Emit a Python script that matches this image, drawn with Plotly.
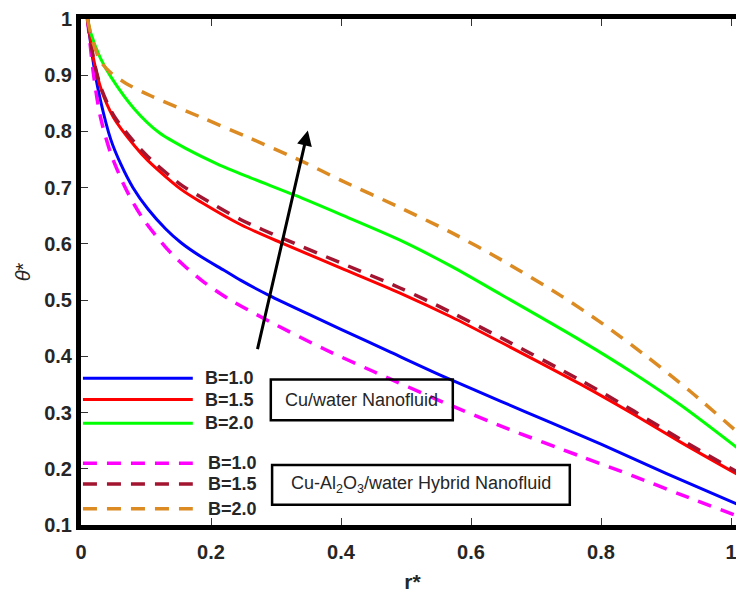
import plotly.graph_objects as go

# ---------------- data ----------------
r_cu_b10 = [0.01, 0.02, 0.03, 0.046, 0.062, 0.08, 0.103, 0.13, 0.154, 0.185, 0.22, 0.246,
            0.29, 0.35, 0.4, 0.477, 0.558, 0.646, 0.723, 0.8, 0.9, 1.01]
th_cu_b10 = [1.0, 0.915, 0.855, 0.785, 0.74, 0.70, 0.662, 0.627, 0.602, 0.577, 0.553, 0.535,
             0.508, 0.475, 0.448, 0.407, 0.364, 0.320, 0.282, 0.244, 0.192, 0.137]

r_cu_b15 = [0.01, 0.02, 0.031, 0.05, 0.082, 0.103, 0.154, 0.185, 0.246, 0.312, 0.4, 0.49,
            0.57, 0.646, 0.769, 0.85, 0.923, 1.01]
th_cu_b15 = [1.0, 0.925, 0.875, 0.825, 0.775, 0.748, 0.697, 0.674, 0.634, 0.600, 0.557, 0.513,
             0.47, 0.425, 0.35, 0.297, 0.247, 0.19]

r_cu_b20 = [0.01, 0.015, 0.03, 0.046, 0.082, 0.12, 0.164, 0.21, 0.26, 0.328, 0.4, 0.49, 0.57,
            0.646, 0.769, 0.85, 0.923, 1.01]
th_cu_b20 = [1.0, 0.975, 0.93, 0.897, 0.84, 0.798, 0.768, 0.742, 0.718, 0.687, 0.652, 0.607,
             0.56, 0.51, 0.428, 0.37, 0.313, 0.237]

r_hy_b10 = [0.01, 0.02, 0.03, 0.046, 0.062, 0.077, 0.097, 0.131, 0.158, 0.189, 0.226, 0.29,
            0.374, 0.45, 0.554, 0.657, 0.769, 0.85, 0.923, 1.01]
th_hy_b10 = [1.0, 0.895, 0.825, 0.76, 0.715, 0.68, 0.642, 0.593, 0.562, 0.532, 0.503, 0.462,
             0.413, 0.373, 0.32, 0.271, 0.222, 0.187, 0.154, 0.116]

r_hy_b15 = [0.01, 0.02, 0.031, 0.05, 0.082, 0.103, 0.154, 0.185, 0.246, 0.312, 0.4, 0.49,
            0.57, 0.646, 0.769, 0.85, 0.923, 1.01]
th_hy_b15 = [1.0, 0.925, 0.877, 0.829, 0.781, 0.755, 0.705, 0.683, 0.643, 0.609, 0.566, 0.522,
             0.478, 0.433, 0.357, 0.303, 0.252, 0.194]

r_hy_b20 = [0.01, 0.018, 0.03, 0.045, 0.07, 0.108, 0.185, 0.26, 0.338, 0.4, 0.49, 0.57, 0.646,
            0.738, 0.8, 0.87, 0.938, 1.01]
th_hy_b20 = [1.0, 0.96, 0.925, 0.905, 0.885, 0.863, 0.825, 0.788, 0.748, 0.713, 0.665, 0.62,
             0.572, 0.508, 0.46, 0.40, 0.337, 0.265]

labels_b = ["B=1.0", "B=1.5", "B=2.0"]
x_ticks = [0, 0.2, 0.4, 0.6, 0.8, 1.0]
x_ticktext = ["0", "0.2", "0.4", "0.6", "0.8", "1"]
y_ticks = [0.1, 0.2, 0.3, 0.4, 0.5, 0.6, 0.7, 0.8, 0.9, 1.0]
y_ticktext = ["0.1", "0.2", "0.3", "0.4", "0.5", "0.6", "0.7", "0.8", "0.9", "1"]

cu_colors = ["#0000FF", "#FF0000", "#00FF00"]
hy_colors = ["#FF00FF", "#A2142F", "#DC8A22"]
DASH = "14px,10px"

cu_series = [(r_cu_b10, th_cu_b10), (r_cu_b15, th_cu_b15), (r_cu_b20, th_cu_b20)]
hy_series = [(r_hy_b10, th_hy_b10), (r_hy_b15, th_hy_b15), (r_hy_b20, th_hy_b20)]

fig = go.Figure()
for (r, t), c, name in zip(cu_series, cu_colors, labels_b):
    fig.add_trace(go.Scatter(x=r, y=t, mode="lines", name=name, showlegend=False,
                             line=dict(color=c, width=3, shape="spline", smoothing=0.8)))
for (r, t), c, name in zip(hy_series, hy_colors, labels_b):
    fig.add_trace(go.Scatter(x=r, y=t, mode="lines", name=name, showlegend=False,
                             line=dict(color=c, width=3.5, dash=DASH, shape="spline",
                                       smoothing=0.8)))

TXT = "#262626"
FONT = "Liberation Sans, Arial, sans-serif"

# ---- custom legend (inside lower-left) ----
shapes = []
annotations = []
cu_leg_y = [0.361, 0.323, 0.281]
hy_leg_y = [0.210, 0.173, 0.129]
for yv, c, lab in zip(cu_leg_y, cu_colors, labels_b):
    shapes.append(dict(type="line", xref="x", yref="y", x0=0.003, x1=0.172, y0=yv, y1=yv,
                       line=dict(color=c, width=3)))
    annotations.append(dict(x=0.188, y=yv, xref="x", yref="y", text=lab, showarrow=False,
                            xanchor="left", yanchor="middle",
                            font=dict(family=FONT, size=18, color=TXT, weight="bold")))
for yv, c, lab in zip(hy_leg_y, hy_colors, labels_b):
    shapes.append(dict(type="line", xref="x", yref="y", x0=0.003, x1=0.172, y0=yv, y1=yv,
                       line=dict(color=c, width=3.5, dash=DASH)))
    annotations.append(dict(x=0.192, y=yv, xref="x", yref="y", text=lab, showarrow=False,
                            xanchor="left", yanchor="middle",
                            font=dict(family=FONT, size=18, color=TXT, weight="bold")))

# boxes
shapes.append(dict(type="rect", xref="x", yref="y", x0=0.292, x1=0.572, y0=0.2862, y1=0.3586,
                   line=dict(color="black", width=2.5), fillcolor="rgba(0,0,0,0)"))
shapes.append(dict(type="rect", xref="x", yref="y", x0=0.294, x1=0.752, y0=0.1362, y1=0.2068,
                   line=dict(color="black", width=2.5), fillcolor="rgba(0,0,0,0)"))
annotations.append(dict(x=0.432, y=0.3225, xref="x", yref="y", text="Cu/water Nanofluid",
                        showarrow=False, xanchor="center", yanchor="middle",
                        font=dict(family=FONT, size=18, color=TXT)))
annotations.append(dict(x=0.523, y=0.1715, xref="x", yref="y",
                        text="Cu-Al<sub>2</sub>O<sub>3</sub>/water Hybrid Nanofluid",
                        showarrow=False, xanchor="center", yanchor="middle",
                        font=dict(family=FONT, size=18, color=TXT)))

# arrow
annotations.append(dict(x=0.349, y=0.8015, ax=0.271, ay=0.41, xref="x", yref="y",
                        axref="x", ayref="y", text="", showarrow=True, arrowhead=2,
                        arrowsize=1, arrowwidth=3, arrowcolor="black"))

fig.update_layout(
    width=736, height=589,
    margin=dict(l=73, r=0, t=8, b=72),
    paper_bgcolor="white", plot_bgcolor="white",
    shapes=shapes, annotations=annotations,
    xaxis=dict(range=[0, 1.02], tickvals=x_ticks, ticktext=x_ticktext,
               ticks="inside", ticklen=7, tickwidth=1, tickcolor="#333",
               showline=True, linecolor="black", linewidth=5, mirror="ticks",
               showgrid=False, zeroline=False, ticklabelstandoff=5,
               ticklabeloverflow="allow",
               tickfont=dict(family=FONT, size=20, color=TXT, weight="bold"),
               title=dict(text="<b>r*</b>", standoff=14,
                          font=dict(family=FONT, size=21, color=TXT))),
    yaxis=dict(range=[0.1, 1.0], tickvals=y_ticks, ticktext=y_ticktext,
               ticks="inside", ticklen=7, tickwidth=1, tickcolor="#333",
               showline=True, linecolor="black", linewidth=5, mirror=False,
               showgrid=False, zeroline=False, ticklabeloverflow="allow",
               tickfont=dict(family=FONT, size=20, color=TXT, weight="bold"),
               title=dict(text="<i>θ</i>*", standoff=10,
                          font=dict(family=FONT, size=20, color=TXT))),
    yaxis2=dict(overlaying="y", side="right", anchor="x", range=[0.1, 1.0],
                tickvals=y_ticks, ticks="inside", ticklen=5, tickwidth=1, tickcolor="#333",
                showticklabels=False, showline=False, showgrid=False, zeroline=False),
)

fig.write_html("out.html")
